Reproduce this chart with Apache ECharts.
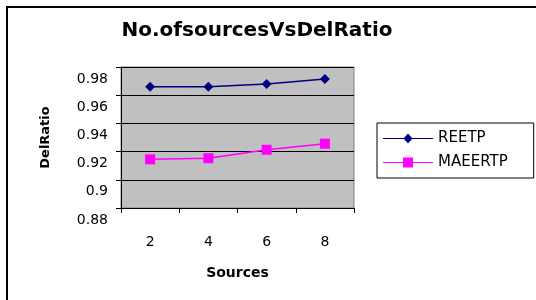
<!DOCTYPE html>
<html>
<head>
<meta charset="utf-8">
<script src="https://cdn.jsdelivr.net/npm/echarts@6/dist/echarts.min.js"></script>
<style>
  html, body { margin: 0; padding: 0; background: #fff; }
  #main { width: 536px; height: 300px; }
</style>
</head>
<body>
<div id="main"></div>
<script>
// данные графика
const sources = ['2', '4', '6', '8'];
const reetp = [0.966, 0.966, 0.968, 0.9715];
const maeertp = [0.9145, 0.9153, 0.9213, 0.9256];
const yTicks = [0.88, 0.9, 0.92, 0.94, 0.96, 0.98];

let chart = echarts.init(document.getElementById('main'));
const font = '"DejaVu Sans", "Liberation Sans", Arial, sans-serif';

const option = {
    animation: false,
    textStyle: { fontFamily: font },
    title: {
        text: 'No.ofsourcesVsDelRatio',
        left: 252,
        top: 16,
        textAlign: 'center',
        textStyle: { fontFamily: font, fontSize: 20, fontWeight: 'bold', color: '#000' }
    },
    graphic: [{
        type: 'rect',
        shape: { x: 7, y: 7, width: 600, height: 400 },
        style: { fill: null, stroke: '#000', lineWidth: 2 },
        silent: true
    }],
    grid: {
        left: 121, top: 67, width: 233, height: 141,
        show: true, backgroundColor: '#C0C0C0', borderColor: '#808080', borderWidth: 1
    },
    legend: {
        left: 377, top: 123,
        orient: 'vertical',
        itemGap: 9,
        itemWidth: 50, itemHeight: 10,
        itemTextGap: 6,
        padding: [8, 26, 8, 6],
        borderColor: '#000', borderWidth: 1,
        textStyle: { fontFamily: font, fontSize: 15, color: '#000' },
        data: [
            { name: 'REETP', icon: 'path://M0,4.5 L21,4.5 L25,0 L29,4.5 L50,4.5 L50,5.5 L29,5.5 L25,10 L21,5.5 L0,5.5 Z' },
            { name: 'MAEERTP', icon: 'path://M0,4.5 L20,4.5 L20,0 L30,0 L30,4.5 L50,4.5 L50,5.5 L30,5.5 L30,10 L20,10 L20,5.5 L0,5.5 Z' }
        ]
    },
    xAxis: {
        type: 'category',
        data: sources,
        boundaryGap: true,
        name: 'Sources',
        nameLocation: 'middle',
        nameGap: 58,
        nameTextStyle: { fontFamily: font, fontSize: 14, fontWeight: 'bold', color: '#000' },
        axisLine: { lineStyle: { color: '#000' } },
        axisTick: { show: true, length: 5, lineStyle: { color: '#000' } },
        axisLabel: { margin: 27, fontSize: 14, color: '#000', fontFamily: font }
    },
    yAxis: {
        type: 'value',
        min: yTicks[0],
        max: yTicks[yTicks.length - 1],
        interval: 0.02,
        name: 'DelRatio',
        nameLocation: 'middle',
        nameRotate: 90,
        nameGap: 69,
        nameTextStyle: { fontFamily: font, fontSize: 13, fontWeight: 'bold', color: '#000' },
        axisLine: { show: true, lineStyle: { color: '#000' } },
        axisTick: { show: true, length: 5, lineStyle: { color: '#000' } },
        splitLine: { show: true, lineStyle: { color: '#000', width: 1 } },
        axisLabel: {
            margin: 13, fontSize: 14, color: '#000', fontFamily: font,
            verticalAlign: 'top',
            padding: [5, 0, 0, 0],
            formatter: v => String(+v.toFixed(2))
        }
    },
    series: [
        {
            name: 'REETP',
            type: 'line',
            data: reetp,
            symbol: 'diamond',
            symbolSize: 10,
            itemStyle: { color: '#000080' },
            lineStyle: { color: '#000080', width: 1.5 }
        },
        {
            name: 'MAEERTP',
            type: 'line',
            data: maeertp,
            symbol: 'rect',
            symbolSize: 10,
            itemStyle: { color: '#FF00FF' },
            lineStyle: { color: '#FF00FF', width: 1.5 }
        }
    ]
};
chart.setOption(option);
</script>
</body>
</html>
